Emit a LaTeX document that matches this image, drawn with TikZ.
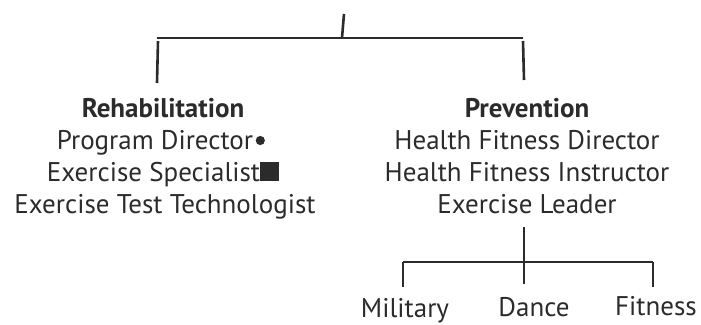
\documentclass[tikz,border=0pt]{standalone}
\usepackage{fontspec}
\setmainfont{PT Sans}
\definecolor{ink}{HTML}{2B2B2B}
\begin{document}
\begin{tikzpicture}[x=1pt,y=-1pt,
  lbl/.style={anchor=base,inner sep=0pt,text=ink,font=\fontsize{27}{31}\selectfont},
  hd/.style={lbl,font=\fontsize{27}{31}\selectfont\bfseries},
  ln/.style={draw=ink,line width=2.6pt}]
\useasboundingbox (0,0) rectangle (701,324);
% top structure
\coordinate (t0) at (344,14);
\coordinate (t1) at (342,38);
\coordinate (bl) at (157,38);
\coordinate (br) at (523,38);
\coordinate (l0) at (158,41);
\coordinate (l1) at (157,83);
\coordinate (r0) at (523,41);
\coordinate (r1) at (524,80);
\draw[ln] (t0) -- (t1);
\draw[ln] (bl) -- (br);
\draw[ln] (l0) -- (l1);
\draw[ln] (r0) -- (r1);
% left block
\node[hd] (rehab) at (163,117) {Rehabilitation};
\node[lbl] (pd) at (155,149) {Program Director};
\fill[ink] ([xshift=7pt,yshift=8.5pt]pd.base east) circle (4.6pt);
\node[lbl] (es) at (163,181) {Exercise Specialist\textcolor{ink}{\rule{0.7em}{0.7em}}};
\node[lbl] (ett) at (165,213) {Exercise Test Technologist};
% right block
\node[hd] (prev) at (527,117) {Prevention};
\node[lbl] (hfd) at (527,149) {Health Fitness Director};
\node[lbl] (hfi) at (527,181) {Health Fitness Instructor};
\node[lbl] (el) at (527,213) {Exercise Leader};
% bottom structure
\coordinate (e0) at (524,227);
\coordinate (e1) at (524,284);
\coordinate (bb0) at (403,262);
\coordinate (bb1) at (653,262);
\coordinate (m0) at (403,262);
\coordinate (m1) at (403,287);
\coordinate (f0) at (653,262);
\coordinate (f1) at (653,287);
\draw[ln] (e0) -- (e1);
\draw[ln,line width=2.2pt] (bb0) -- (bb1);
\draw[ln,line width=2.2pt] (m0) -- (m1);
\draw[ln,line width=2.2pt] (f0) -- (f1);
\node[lbl] (mil) at (405,317) {Military};
\node[lbl] (dan) at (534,316) {Dance};
\node[lbl] (fit) at (656,315) {Fitness};
\end{tikzpicture}
\end{document}
